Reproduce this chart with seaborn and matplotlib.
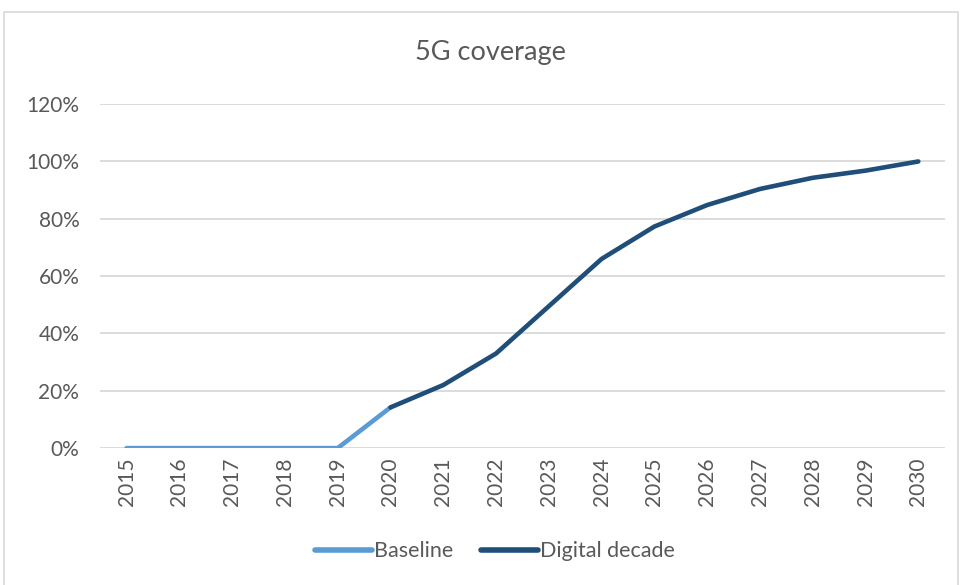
import matplotlib
matplotlib.use("Agg")
import matplotlib.pyplot as plt
import pandas as pd
import seaborn as sns
from matplotlib.patches import Rectangle
from matplotlib.ticker import PercentFormatter

# Data
baseline_years = [2015, 2016, 2017, 2018, 2019, 2020]
baseline_vals = [0, 0, 0, 0, 0, 14.2]
decade_years = [2020, 2021, 2022, 2023, 2024, 2025, 2026, 2027, 2028, 2029, 2030]
decade_vals = [14.2, 22, 33, 49.5, 66, 77.3, 84.8, 90.4, 94.3, 96.8, 100]
year_labels = [str(y) for y in range(2015, 2031)]

df = pd.concat([
    pd.DataFrame({"year": baseline_years, "value": baseline_vals, "series": "Baseline"}),
    pd.DataFrame({"year": decade_years, "value": decade_vals, "series": "Digital decade"}),
])

sns.set_style("white")
plt.rcParams['font.family'] = ['Lato', 'DejaVu Sans']
grey = "#595959"

fig = plt.figure(figsize=(9.63, 5.85), dpi=100)
ax = fig.add_axes([0.104, 0.234, 0.877, 0.588])

sns.lineplot(data=df, x="year", y="value", hue="series",
             palette={"Baseline": "#5B9BD5", "Digital decade": "#1F4E79"},
             linewidth=3.3, ax=ax, solid_capstyle="round", legend=True)

ax.set_xlim(2014.5, 2030.5)
ax.set_ylim(0, 120)
ax.set_yticks(range(0, 121, 20))
ax.yaxis.set_major_formatter(PercentFormatter(decimals=0))
ax.set_xticks(range(2015, 2031))
ax.set_xticklabels(year_labels, rotation=90)
ax.tick_params(axis="both", colors=grey, labelsize=15, length=0)
ax.tick_params(axis="y", pad=15)
ax.tick_params(axis="x", pad=7)
ax.grid(axis="y", color="#D9D9D9", linewidth=1.3)
ax.set_axisbelow(True)
for s in ax.spines.values():
    s.set_visible(False)
ax.set_xlabel("")
ax.set_ylabel("")

fig.text(0.509, 0.911, "5G coverage", ha="center", va="center", fontsize=19.5, color=grey)

handles, labels = ax.get_legend_handles_labels()
for h in handles:
    h.set_linewidth(4)
    h.set_solid_capstyle("round")
ax.legend(handles, labels, loc="center", bbox_to_anchor=(0.514, 0.058),
          bbox_transform=fig.transFigure, ncol=2, frameon=False,
          fontsize=15.5, labelcolor=grey, handlelength=2.65,
          handletextpad=0.1, columnspacing=1.3)

fig.patches.append(Rectangle((4 / 963, -0.01), 954 / 963, 1 - 12 / 585 + 0.01,
                             transform=fig.transFigure, fill=False,
                             edgecolor="#D9D9D9", linewidth=1.2))

fig.savefig("out.png", dpi=100, facecolor="white")
